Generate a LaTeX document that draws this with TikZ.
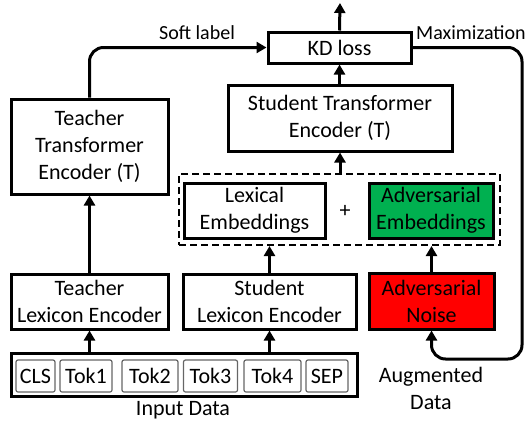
\documentclass[tikz,border=0pt]{standalone}
\usepackage{fontspec}
\setmainfont{Carlito}
\usetikzlibrary{arrows.meta,calc}
\definecolor{advgreen}{HTML}{00B050}
\definecolor{advred}{HTML}{FF0000}
\tikzset{
  block/.style={draw, line width=3pt, inner sep=0pt, align=center,
    font=\fontsize{22}{27}\selectfont},
  tok/.style={draw=black!60, line width=1.2pt, rounded corners=2pt, inner sep=0pt,
    minimum height=32pt, font=\fontsize{22}{27}\selectfont},
  flow/.style={line width=3pt, -{Triangle[length=10pt,width=11pt]}},
  lbl/.style={font=\fontsize{22}{27}\selectfont, align=center, inner sep=0pt},
  edgelbl/.style={font=\fontsize{20}{24}\selectfont, inner sep=0pt}
}
\begin{document}
\begin{tikzpicture}[x=1pt,y=-1pt]
  \useasboundingbox (0,0) rectangle (528,424);
  \node[block, minimum width=157pt, minimum height=95pt] (teacherTE) at (89.5,146.5) {Teacher\\Transformer\\Encoder (T)};
  \node[block, minimum width=157pt, minimum height=55pt] (teacherLE) at (89.5,301.5) {Teacher\\Lexicon Encoder};
  \node[block, minimum width=173pt, minimum height=55pt] (studentLE) at (269.5,301.5) {Student\\Lexicon Encoder};
  \node[block, fill=advred, minimum width=125pt, minimum height=56pt] (noise) at (431.5,301) {Adversarial\\Noise};
  \node[block, minimum width=141pt, minimum height=55pt] (lexEmb) at (254.5,210.5) {Lexical\\Embeddings};
  \node[block, fill=advgreen, minimum width=124pt, minimum height=55pt] (advEmb) at (431,210.5) {Adversarial\\Embeddings};
  \node[lbl] (plus) at (345,211) {+};
  \node[draw, line width=2pt, dash pattern=on 7pt off 4pt, minimum width=321pt, minimum height=71pt, inner sep=0pt] (embed) at (339.5,209.5) {};
  \node[block, minimum width=224pt, minimum height=66pt] (studentTE) at (340,118) {Student Transformer\\Encoder (T)};
  \node[block, minimum width=143pt, minimum height=31pt] (kd) at (339.5,47.5) {KD loss};
  \node[block, minimum width=346pt, minimum height=43pt] (input) at (184,374.5) {};
  \node[tok, minimum width=39pt] (cls) at (35.5,376) {CLS};
  \node[tok, minimum width=52pt] (tok1) at (86,376) {Tok1};
  \node[tok, minimum width=56pt] (tok2) at (150,376) {Tok2};
  \node[tok, minimum width=54pt] (tok3) at (210.5,376) {Tok3};
  \node[tok, minimum width=57pt] (tok4) at (272.5,376) {Tok4};
  \node[tok, minimum width=42pt] (sep) at (327,376) {SEP};
  \node[lbl] (inputlbl) at (183,410) {Input Data};
  \node[edgelbl] (softlbl) at (197,33) {Soft label};
  \node[edgelbl, anchor=west] (maxlbl) at (416,33) {Maximization};
  \node[lbl] (auglbl) at (431,388) {Augmented\\Data};
  \coordinate (top) at (340,3);
  \coordinate (maxcorner) at (522,359);

  \draw[flow] (input.north -| teacherLE) -- (teacherLE.south);
  \draw[flow] (input.north -| studentLE) -- (studentLE.south);
  \draw[flow] (teacherLE) -- (teacherTE);
  \draw[flow] (studentLE.north) -- (studentLE.north |- embed.south);
  \draw[flow] (noise.north) -- (noise.north |- embed.south);
  \draw[flow] (embed.north -| studentTE) -- (studentTE.south);
  \draw[flow] (studentTE.north -| kd) -- (kd.south);
  \draw[flow] (kd.north) -- (top);
  \draw[flow, rounded corners=14pt] (teacherTE.north) |- (kd.west);
  \draw[flow, rounded corners=14pt] (kd.east) -| (maxcorner) -| (noise.south);
\end{tikzpicture}
\end{document}
